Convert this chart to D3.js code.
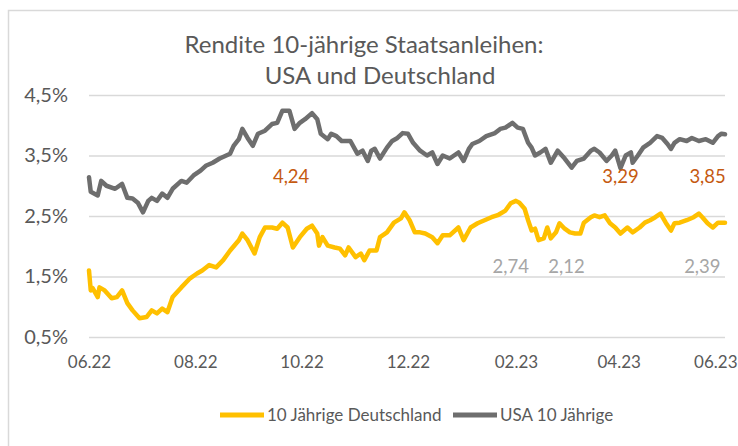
<!DOCTYPE html>
<html>
<head>
<meta charset="utf-8">
<script src="https://cdn.jsdelivr.net/npm/d3@7"></script>
<style>
  body { margin: 0; background: #fff; }
  svg { display: block; font-family: Lato, "Open Sans", sans-serif; }
</style>
</head>
<body>
<div id="chart"></div>
<script>
// Rendite 10-jährige Staatsanleihen
const usaYields = [
  ["2022-06-01", 3.14], ["2022-06-02", 2.90], ["2022-06-06", 2.84], ["2022-06-08", 3.08],
  ["2022-06-11", 3.00], ["2022-06-16", 2.95], ["2022-06-20", 3.03], ["2022-06-23", 2.80],
  ["2022-06-26", 2.79], ["2022-06-29", 2.72], ["2022-07-02", 2.56], ["2022-07-05", 2.75],
  ["2022-07-07", 2.80], ["2022-07-10", 2.75], ["2022-07-13", 2.87], ["2022-07-16", 2.80],
  ["2022-07-19", 2.95], ["2022-07-24", 3.08], ["2022-07-27", 3.05], ["2022-07-31", 3.17],
  ["2022-08-04", 3.25], ["2022-08-07", 3.33], ["2022-08-11", 3.38], ["2022-08-15", 3.45],
  ["2022-08-21", 3.53], ["2022-08-23", 3.66], ["2022-08-26", 3.77], ["2022-08-28", 3.94],
  ["2022-08-31", 3.79], ["2022-09-03", 3.66], ["2022-09-06", 3.86], ["2022-09-10", 3.91],
  ["2022-09-14", 4.02], ["2022-09-17", 4.04], ["2022-09-20", 4.24], ["2022-09-24", 4.24],
  ["2022-09-27", 3.94], ["2022-09-30", 4.04], ["2022-10-03", 4.10], ["2022-10-07", 4.20],
  ["2022-10-10", 4.10], ["2022-10-12", 3.86], ["2022-10-16", 3.77], ["2022-10-18", 3.86],
  ["2022-10-21", 3.82], ["2022-10-24", 3.74], ["2022-10-29", 3.74], ["2022-11-02", 3.53],
  ["2022-11-05", 3.58], ["2022-11-08", 3.41], ["2022-11-10", 3.58], ["2022-11-12", 3.61],
  ["2022-11-15", 3.45], ["2022-11-19", 3.63], ["2022-11-22", 3.74], ["2022-11-25", 3.79],
  ["2022-11-28", 3.87], ["2022-12-01", 3.86], ["2022-12-04", 3.71], ["2022-12-08", 3.58],
  ["2022-12-12", 3.50], ["2022-12-15", 3.55], ["2022-12-18", 3.36], ["2022-12-21", 3.50],
  ["2022-12-25", 3.45], ["2022-12-30", 3.55], ["2023-01-02", 3.41], ["2023-01-05", 3.61],
  ["2023-01-07", 3.69], ["2023-01-11", 3.74], ["2023-01-15", 3.82], ["2023-01-20", 3.87],
  ["2023-01-23", 3.94], ["2023-01-26", 3.96], ["2023-01-30", 4.04], ["2023-02-02", 3.96],
  ["2023-02-05", 3.94], ["2023-02-08", 3.71], ["2023-02-10", 3.63], ["2023-02-12", 3.50],
  ["2023-02-15", 3.55], ["2023-02-18", 3.61], ["2023-02-21", 3.38], ["2023-02-25", 3.58],
  ["2023-03-01", 3.45], ["2023-03-05", 3.30], ["2023-03-08", 3.41], ["2023-03-12", 3.45],
  ["2023-03-16", 3.58], ["2023-03-18", 3.61], ["2023-03-21", 3.55], ["2023-03-25", 3.41],
  ["2023-03-28", 3.50], ["2023-03-30", 3.58], ["2023-04-02", 3.29], ["2023-04-05", 3.50],
  ["2023-04-08", 3.55], ["2023-04-09", 3.38], ["2023-04-12", 3.50], ["2023-04-15", 3.63],
  ["2023-04-19", 3.71], ["2023-04-23", 3.82], ["2023-04-26", 3.79], ["2023-04-29", 3.69],
  ["2023-05-01", 3.61], ["2023-05-03", 3.71], ["2023-05-06", 3.77], ["2023-05-10", 3.74],
  ["2023-05-13", 3.79], ["2023-05-17", 3.74], ["2023-05-21", 3.77], ["2023-05-25", 3.71],
  ["2023-05-28", 3.82], ["2023-05-30", 3.86], ["2023-06-01", 3.85]
];

const deYields = [
  ["2022-06-01", 1.60], ["2022-06-02", 1.27], ["2022-06-03", 1.31], ["2022-06-06", 1.16],
  ["2022-06-07", 1.32], ["2022-06-10", 1.27], ["2022-06-14", 1.14], ["2022-06-17", 1.16],
  ["2022-06-20", 1.27], ["2022-06-23", 1.06], ["2022-06-26", 0.94], ["2022-06-30", 0.81],
  ["2022-07-04", 0.83], ["2022-07-07", 0.94], ["2022-07-10", 0.89], ["2022-07-13", 0.97],
  ["2022-07-16", 0.91], ["2022-07-19", 1.16], ["2022-07-24", 1.32], ["2022-07-29", 1.47],
  ["2022-08-02", 1.55], ["2022-08-05", 1.60], ["2022-08-09", 1.69], ["2022-08-13", 1.65],
  ["2022-08-17", 1.77], ["2022-08-21", 1.93], ["2022-08-26", 2.10], ["2022-08-28", 2.21],
  ["2022-08-31", 2.10], ["2022-09-04", 1.88], ["2022-09-07", 2.15], ["2022-09-10", 2.31],
  ["2022-09-14", 2.31], ["2022-09-17", 2.29], ["2022-09-20", 2.39], ["2022-09-23", 2.31],
  ["2022-09-26", 1.98], ["2022-09-30", 2.15], ["2022-10-04", 2.29], ["2022-10-07", 2.34],
  ["2022-10-10", 2.21], ["2022-10-11", 2.01], ["2022-10-13", 2.15], ["2022-10-16", 2.01],
  ["2022-10-20", 1.98], ["2022-10-23", 1.96], ["2022-10-26", 1.85], ["2022-10-28", 1.98],
  ["2022-11-01", 1.82], ["2022-11-04", 1.88], ["2022-11-06", 1.77], ["2022-11-09", 1.93],
  ["2022-11-13", 1.93], ["2022-11-15", 2.15], ["2022-11-19", 2.23], ["2022-11-23", 2.39],
  ["2022-11-27", 2.46], ["2022-11-29", 2.56], ["2022-12-02", 2.43], ["2022-12-05", 2.23],
  ["2022-12-08", 2.23], ["2022-12-11", 2.21], ["2022-12-15", 2.15], ["2022-12-18", 2.05],
  ["2022-12-21", 2.18], ["2022-12-25", 2.18], ["2022-12-30", 2.31], ["2023-01-02", 2.10],
  ["2023-01-06", 2.31], ["2023-01-10", 2.38], ["2023-01-14", 2.43], ["2023-01-18", 2.48],
  ["2023-01-22", 2.52], ["2023-01-26", 2.59], ["2023-01-29", 2.71], ["2023-02-01", 2.75],
  ["2023-02-03", 2.72], ["2023-02-06", 2.62], ["2023-02-08", 2.43], ["2023-02-10", 2.26],
  ["2023-02-12", 2.29], ["2023-02-14", 2.10], ["2023-02-17", 2.13], ["2023-02-19", 2.31],
  ["2023-02-21", 2.13], ["2023-02-24", 2.23], ["2023-02-26", 2.38], ["2023-03-01", 2.29],
  ["2023-03-04", 2.23], ["2023-03-07", 2.21], ["2023-03-10", 2.21], ["2023-03-12", 2.39],
  ["2023-03-16", 2.48], ["2023-03-18", 2.51], ["2023-03-21", 2.48], ["2023-03-24", 2.51],
  ["2023-03-27", 2.38], ["2023-03-30", 2.31], ["2023-04-02", 2.21], ["2023-04-06", 2.31],
  ["2023-04-09", 2.23], ["2023-04-13", 2.31], ["2023-04-16", 2.39], ["2023-04-19", 2.43],
  ["2023-04-22", 2.48], ["2023-04-25", 2.54], ["2023-04-28", 2.39], ["2023-05-01", 2.26],
  ["2023-05-03", 2.38], ["2023-05-06", 2.39], ["2023-05-10", 2.43], ["2023-05-14", 2.48],
  ["2023-05-17", 2.54], ["2023-05-19", 2.48], ["2023-05-22", 2.38], ["2023-05-25", 2.31],
  ["2023-05-28", 2.39], ["2023-06-01", 2.39]
];

const yTicks = [0.5, 1.5, 2.5, 3.5, 4.5];
const xTicks = ["2022-06-01", "2022-08-01", "2022-10-01", "2022-12-01",
                "2023-02-01", "2023-04-01", "2023-06-01"];
const titleLines = ["Rendite 10-jährige Staatsanleihen:", "USA und Deutschland"];
const seriesNames = ["10 Jährige Deutschland", "USA 10 Jährige"];
const seriesColors = ["#FFC000", "#6E6E6E"];

// value labels: [date, text]
const usaLabels = [["2022-09-25", "4,24"], ["2023-04-02", "3,29"], ["2023-05-22", "3,85"]];
const deLabels = [["2023-01-29", "2,74"], ["2023-03-02", "2,12"], ["2023-05-19", "2,39"]];

const W = 738, H = 446;
const parse = d3.timeParse("%Y-%m-%d");
const de = d3.formatLocale({ decimal: ",", thousands: ".", grouping: [3], currency: ["", " €"] });

const x = d3.scaleTime()
  .domain([parse("2022-06-01"), parse("2023-06-01")])
  .range([89, 725]);
const y = d3.scaleLinear().domain([0.5, 4.5]).range([337, 95]);

const svg = d3.select("#chart").append("svg")
  .attr("width", W)
  .attr("height", H);

svg.append("rect").attr("width", W).attr("height", H).attr("fill", "#fff");

// chart area border (runs off the right and bottom edge)
svg.append("rect")
  .attr("x", 8.5).attr("y", 10.5)
  .attr("width", 800).attr("height", 500)
  .attr("fill", "none")
  .attr("stroke", "#D9D9D9")
  .attr("stroke-width", 1.5);

// title
svg.selectAll("text.title")
  .data(titleLines)
  .join("text")
  .attr("class", "title")
  .attr("x", (d, i) => i === 0 ? 364 : 380)
  .attr("y", (d, i) => 53 + i * 31)
  .attr("text-anchor", "middle")
  .attr("fill", "#595959")
  .style("font-size", "24px")
  .text(d => d);

// y axis + gridlines
const yAxis = svg.append("g")
  .attr("transform", "translate(89,0)")
  .call(d3.axisLeft(y)
    .tickValues(yTicks)
    .tickSize(-636)
    .tickPadding(21)
    .tickFormat(d => de.format(".1f")(d) + "%"));
yAxis.select(".domain").remove();
yAxis.selectAll(".tick line").attr("stroke", "#D9D9D9").attr("stroke-width", 1.5);
yAxis.selectAll(".tick text")
  .attr("fill", "#595959")
  .style("font-size", "20px")
  .style("font-family", "Lato, sans-serif");

// x axis
const xAxis = svg.append("g")
  .attr("transform", "translate(0,337)")
  .call(d3.axisBottom(x)
    .tickValues(xTicks.map(parse))
    .tickSize(0)
    .tickPadding(19)
    .tickFormat(d3.timeFormat("%m.%y")));
xAxis.select(".domain").remove();
xAxis.selectAll(".tick text")
  .attr("fill", "#595959")
  .style("font-size", "17px")
  .style("font-family", "Lato, sans-serif");
// last label sits at the right edge; keep it inside the picture
xAxis.selectAll(".tick:last-of-type text")
  .attr("text-anchor", "end")
  .attr("x", 12);

// lines
const line = d3.line()
  .x(d => x(parse(d[0])))
  .y(d => y(d[1]));

[deYields, usaYields].forEach((data, i) => {
  svg.append("path")
    .datum(data)
    .attr("fill", "none")
    .attr("stroke", seriesColors[i])
    .attr("stroke-width", 4.5)
    .attr("stroke-linejoin", "round")
    .attr("stroke-linecap", "round")
    .attr("d", line);
});

// value labels
svg.selectAll("text.usa-label")
  .data(usaLabels)
  .join("text")
  .attr("class", "usa-label")
  .attr("x", d => x(parse(d[0])))
  .attr("y", y(3.5) + 27)
  .attr("text-anchor", "middle")
  .attr("fill", "#C55A11")
  .style("font-size", "18.5px")
  .text(d => d[1]);

svg.selectAll("text.de-label")
  .data(deLabels)
  .join("text")
  .attr("class", "de-label")
  .attr("x", d => x(parse(d[0])))
  .attr("y", y(2.5) + 57)
  .attr("text-anchor", "middle")
  .attr("fill", "#A6A6A6")
  .style("font-size", "18.5px")
  .text(d => d[1]);

// legend
const legend = svg.append("g").attr("transform", "translate(220,415)");
const legendX = [0, 233];
seriesNames.forEach((name, i) => {
  const g = legend.append("g").attr("transform", `translate(${legendX[i]},0)`);
  g.append("line")
    .attr("x1", 0).attr("x2", 44)
    .attr("stroke", seriesColors[i])
    .attr("stroke-width", 5);
  g.append("text")
    .attr("x", 47)
    .attr("dy", "0.35em")
    .attr("fill", "#595959")
    .style("font-size", "17px")
    .text(name);
});
</script>
</body>
</html>
